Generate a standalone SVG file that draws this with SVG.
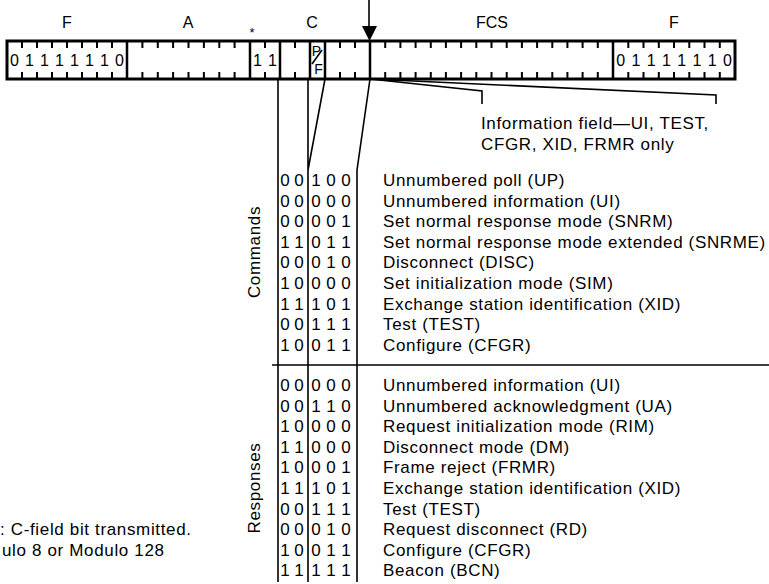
<svg xmlns="http://www.w3.org/2000/svg" width="769" height="584" viewBox="0 0 769 584">
<style>
text{font-family:"Liberation Sans",Arial,sans-serif;fill:#000}
.t{font-size:17px;letter-spacing:0.65px}
.d{font-size:17px;text-anchor:middle}
.fd{font-size:16px;text-anchor:middle}
.lb{font-size:16px;text-anchor:middle}
.ln{stroke:#000;fill:none;stroke-width:1.6}
.tk{stroke:#000;fill:none;stroke-width:2}
.sep{stroke:#000;stroke-width:2.5}
</style>
<rect width="769" height="584" fill="#fff"/>
<g id="labels">
<text class="lb" x="67" y="28">F</text>
<text class="lb" x="188" y="28">A</text>
<text x="252" y="37" style="font-size:13px;text-anchor:middle">*</text>
<text class="lb" x="312" y="28">C</text>
<text class="lb" x="492" y="28">FCS</text>
<text class="lb" x="674" y="28">F</text>
</g>
<g id="frame">
<rect x="7" y="41" width="728" height="38" fill="none" stroke="#000" stroke-width="3"/>
<path class="sep" d="M127 41V79M250 41V79M280 41V79M310 41V79M325 41V79M370 41V79M613 41V79"/>
<path class="tk" d="M22 42v6M37 42v6M52 42v6M67 42v6M82 42v6M97 42v6M112 42v6M22 78v-6M37 78v-6M52 78v-6M67 78v-6M82 78v-6M97 78v-6M112 78v-6
M142.4 42v6M157.8 42v6M173.1 42v6M188.5 42v6M203.9 42v6M219.3 42v6M234.6 42v6M142.4 78v-6M157.8 78v-6M173.1 78v-6M188.5 78v-6M203.9 78v-6M219.3 78v-6M234.6 78v-6
M265 42v6M295 42v6M340 42v6M355 42v6M265 78v-6M295 78v-6M340 78v-6M355 78v-6
M385.2 42v6M400.4 42v6M415.6 42v6M430.8 42v6M445.9 42v6M461.1 42v6M476.3 42v6M491.5 42v6M506.7 42v6M521.9 42v6M537.1 42v6M552.3 42v6M567.4 42v6M582.6 42v6M597.8 42v6
M385.2 78v-6M400.4 78v-6M415.6 78v-6M430.8 78v-6M445.9 78v-6M461.1 78v-6M476.3 78v-6M491.5 78v-6M506.7 78v-6M521.9 78v-6M537.1 78v-6M552.3 78v-6M567.4 78v-6M582.6 78v-6M597.8 78v-6
M628.3 42v6M643.5 42v6M658.8 42v6M674 42v6M689.3 42v6M704.5 42v6M719.8 42v6M628.3 78v-6M643.5 78v-6M658.8 78v-6M674 78v-6M689.3 78v-6M704.5 78v-6M719.8 78v-6"/>
<g class="fd">
<text x="14.5" y="66">0</text><text x="29.5" y="66">1</text><text x="44.5" y="66">1</text><text x="59.5" y="66">1</text><text x="74.5" y="66">1</text><text x="89.5" y="66">1</text><text x="104.5" y="66">1</text><text x="119.5" y="66">0</text>
<text x="257.5" y="66">1</text><text x="272.5" y="66">1</text>
<text x="620.6" y="66">0</text><text x="635.9" y="66">1</text><text x="651.1" y="66">1</text><text x="666.4" y="66">1</text><text x="681.6" y="66">1</text><text x="696.9" y="66">1</text><text x="712.1" y="66">1</text><text x="727.4" y="66">0</text>
</g>
<text x="316.5" y="56" style="font-size:14px;text-anchor:middle">P</text>
<text x="318.5" y="74" style="font-size:14px;text-anchor:middle">F</text>
<path class="ln" d="M312 64L322 50"/>
</g>
<g id="connectors">
<path class="ln" d="M369 0V30"/>
<path d="M362 26H377L369.5 41Z" fill="#000"/>
<path class="ln" d="M370 79L482 91V104M370 79L716 95V104"/>
<path class="ln" d="M278 79V582M308 79V582M325 79L308 170M370 79L357 170V582M272 365H769"/>
</g>
<g id="info">
<text class="t" x="481" y="129">Information field—UI, TEST,</text>
<text class="t" x="481" y="150">CFGR, XID, FRMR only</text>
</g>
<g id="commands">
<text class="t" transform="translate(260 252) rotate(-90)" text-anchor="middle">Commands</text>
<g class="d">
<text x="285" y="186">0</text><text x="299" y="186">0</text><text x="316" y="186">1</text><text x="331" y="186">0</text><text x="346" y="186">0</text>
<text x="285" y="206.6">0</text><text x="299" y="206.6">0</text><text x="316" y="206.6">0</text><text x="331" y="206.6">0</text><text x="346" y="206.6">0</text>
<text x="285" y="227.2">0</text><text x="299" y="227.2">0</text><text x="316" y="227.2">0</text><text x="331" y="227.2">0</text><text x="346" y="227.2">1</text>
<text x="285" y="247.8">1</text><text x="299" y="247.8">1</text><text x="316" y="247.8">0</text><text x="331" y="247.8">1</text><text x="346" y="247.8">1</text>
<text x="285" y="268.4">0</text><text x="299" y="268.4">0</text><text x="316" y="268.4">0</text><text x="331" y="268.4">1</text><text x="346" y="268.4">0</text>
<text x="285" y="289">1</text><text x="299" y="289">0</text><text x="316" y="289">0</text><text x="331" y="289">0</text><text x="346" y="289">0</text>
<text x="285" y="309.6">1</text><text x="299" y="309.6">1</text><text x="316" y="309.6">1</text><text x="331" y="309.6">0</text><text x="346" y="309.6">1</text>
<text x="285" y="330.2">0</text><text x="299" y="330.2">0</text><text x="316" y="330.2">1</text><text x="331" y="330.2">1</text><text x="346" y="330.2">1</text>
<text x="285" y="350.8">1</text><text x="299" y="350.8">0</text><text x="316" y="350.8">0</text><text x="331" y="350.8">1</text><text x="346" y="350.8">1</text>
</g>
<text class="t" x="383" y="186">Unnumbered poll (UP)</text>
<text class="t" x="383" y="206.6">Unnumbered information (UI)</text>
<text class="t" x="383" y="227.2">Set normal response mode (SNRM)</text>
<text class="t" x="383" y="247.8">Set normal response mode extended (SNRME)</text>
<text class="t" x="383" y="268.4">Disconnect (DISC)</text>
<text class="t" x="383" y="289">Set initialization mode (SIM)</text>
<text class="t" x="383" y="309.6">Exchange station identification (XID)</text>
<text class="t" x="383" y="330.2">Test (TEST)</text>
<text class="t" x="383" y="350.8">Configure (CFGR)</text>
</g>
<g id="responses">
<text class="t" transform="translate(260 488) rotate(-90)" text-anchor="middle">Responses</text>
<g class="d">
<text x="285" y="391">0</text><text x="299" y="391">0</text><text x="316" y="391">0</text><text x="331" y="391">0</text><text x="346" y="391">0</text>
<text x="285" y="411.6">0</text><text x="299" y="411.6">0</text><text x="316" y="411.6">1</text><text x="331" y="411.6">1</text><text x="346" y="411.6">0</text>
<text x="285" y="432.2">1</text><text x="299" y="432.2">0</text><text x="316" y="432.2">0</text><text x="331" y="432.2">0</text><text x="346" y="432.2">0</text>
<text x="285" y="452.8">1</text><text x="299" y="452.8">1</text><text x="316" y="452.8">0</text><text x="331" y="452.8">0</text><text x="346" y="452.8">0</text>
<text x="285" y="473.4">1</text><text x="299" y="473.4">0</text><text x="316" y="473.4">0</text><text x="331" y="473.4">0</text><text x="346" y="473.4">1</text>
<text x="285" y="494">1</text><text x="299" y="494">1</text><text x="316" y="494">1</text><text x="331" y="494">0</text><text x="346" y="494">1</text>
<text x="285" y="514.6">0</text><text x="299" y="514.6">0</text><text x="316" y="514.6">1</text><text x="331" y="514.6">1</text><text x="346" y="514.6">1</text>
<text x="285" y="535.2">0</text><text x="299" y="535.2">0</text><text x="316" y="535.2">0</text><text x="331" y="535.2">1</text><text x="346" y="535.2">0</text>
<text x="285" y="555.8">1</text><text x="299" y="555.8">0</text><text x="316" y="555.8">0</text><text x="331" y="555.8">1</text><text x="346" y="555.8">1</text>
<text x="285" y="576.4">1</text><text x="299" y="576.4">1</text><text x="316" y="576.4">1</text><text x="331" y="576.4">1</text><text x="346" y="576.4">1</text>
</g>
<text class="t" x="383" y="391">Unnumbered information (UI)</text>
<text class="t" x="383" y="411.6">Unnumbered acknowledgment (UA)</text>
<text class="t" x="383" y="432.2">Request initialization mode (RIM)</text>
<text class="t" x="383" y="452.8">Disconnect mode (DM)</text>
<text class="t" x="383" y="473.4">Frame reject (FRMR)</text>
<text class="t" x="383" y="494">Exchange station identification (XID)</text>
<text class="t" x="383" y="514.6">Test (TEST)</text>
<text class="t" x="383" y="535.2">Request disconnect (RD)</text>
<text class="t" x="383" y="555.8">Configure (CFGR)</text>
<text class="t" x="383" y="576.4">Beacon (BCN)</text>
</g>
<g id="note">
<text class="t" x="0" y="535.2">: C-field bit transmitted.</text>
<text class="t" x="2" y="555.8">ulo 8 or Modulo 128</text>
</g>
</svg>
